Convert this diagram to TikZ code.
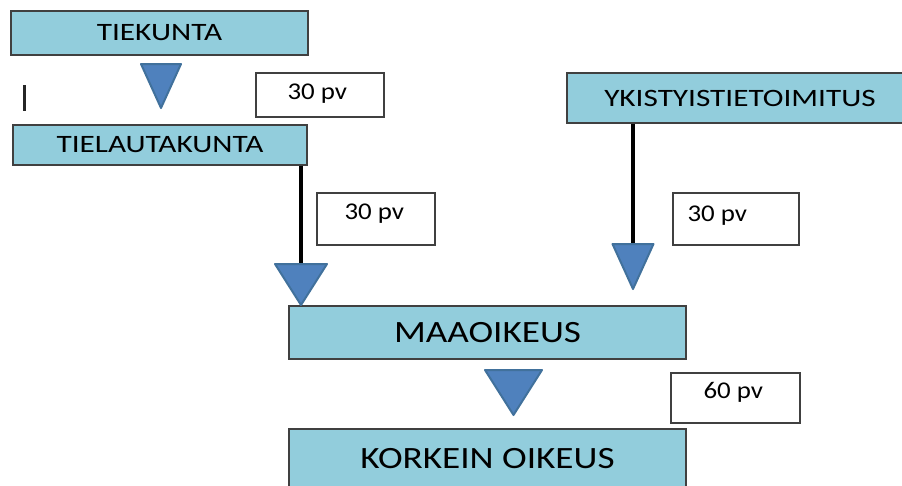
\documentclass[tikz,border=0pt]{standalone}
\usepackage{fontspec}
\setmainfont{Carlito}
\usetikzlibrary{positioning}

\definecolor{stagefill}{HTML}{92CDDC}
\definecolor{stageedge}{HTML}{404040}
\definecolor{trifill}{HTML}{4F81BD}
\definecolor{triedge}{HTML}{41719C}

\newcommand{\stagetxt}[1]{\scalebox{1.25}[1]{#1}}
\newcommand{\courttxt}[1]{\scalebox{1.2}[1]{#1}}
\newcommand{\daystxt}[1]{\scalebox{1.12}[1]{#1}}

\begin{document}
\begin{tikzpicture}[x=1pt, y=-1pt,
    stage/.style={draw=stageedge, line width=1.2pt, fill=stagefill, inner sep=0pt,
        font=\fontsize{25}{29}\selectfont},
    court/.style={stage, font=\fontsize{31}{35}\selectfont},
    days/.style={draw=stageedge, line width=1.2pt, fill=white, inner sep=0pt},
    daylabel/.style={anchor=north west, inner sep=0pt, font=\fontsize{24}{28}\selectfont},
    tri/.style={fill=trifill, draw=triedge, line width=2pt, line join=round},
    stem/.style={line width=4.6pt, black}
]
    \useasboundingbox (0,0) rectangle (902,485);

    % stages
    \node[stage, minimum width=297pt, minimum height=44pt] (tiekunta) at (159.5,33) {\stagetxt{TIEKUNTA}};
    \node[stage, minimum width=294pt, minimum height=40pt] (tielauta) at (160,145) {\stagetxt{TIELAUTAKUNTA}};
    \node[stage, minimum width=346pt, minimum height=50pt] (ykisty) at (740,98) {\stagetxt{YKISTYISTIETOIMITUS}};
    \node[court, minimum width=397pt, minimum height=53pt] (maaoikeus) at (487.5,332.5) {\courttxt{MAAOIKEUS}};
    \node[court, minimum width=397pt, minimum height=60pt] (korkein) at (487.5,459) {\courttxt{KORKEIN OIKEUS}};

    % time limits
    \node[days, minimum width=128pt, minimum height=44pt] (days1) at (320,95)
        [label={[daylabel, xshift=32pt, yshift=-11pt]north west:\daystxt{30 pv}}] {};
    \node[days, minimum width=118pt, minimum height=52pt] (days2) at (376,219)
        [label={[daylabel, xshift=28pt, yshift=-11pt]north west:\daystxt{30 pv}}] {};
    \node[days, minimum width=126pt, minimum height=52pt] (days3) at (736,219)
        [label={[daylabel, xshift=15pt, yshift=-13pt]north west:\daystxt{30 pv}}] {};
    \node[days, minimum width=129pt, minimum height=50pt] (days4) at (735.5,398)
        [label={[daylabel, xshift=33pt, yshift=-10pt]north west:\daystxt{60 pv}}] {};

    % triangle tops
    \coordinate (tri1) at (161,63);
    \coordinate (tri2) at (301,263);
    \coordinate (tri3) at (633,243);
    \coordinate (tri4) at (513.5,369);

    \draw[stem] (tri2 |- tielauta.south) -- (tri2);
    \draw[stem] (tri3 |- ykisty.south) -- (tri3);

    \foreach \t/\w/\h in {tri1/40/44, tri2/52/41, tri3/41/45, tri4/57/45}
        \draw[tri] (\t) ++(-\w/2,1) -- ++(\w,0) -- ++(-\w/2,\h) -- cycle;

    \draw[line width=3pt, black!85] (24.5,85) -- (24.5,111);
\end{tikzpicture}
\end{document}
